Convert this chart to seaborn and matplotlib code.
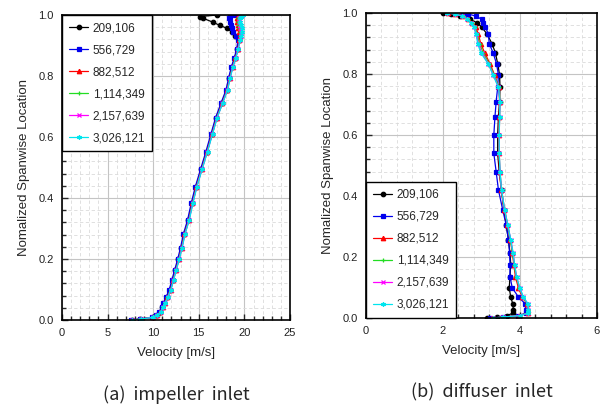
import matplotlib
matplotlib.use("Agg")
import matplotlib.pyplot as plt
from matplotlib.ticker import MultipleLocator
import seaborn as sns
import pandas as pd

sns.set_style("white")
plt.rcParams['font.family'] = ['Liberation Sans', 'DejaVu Sans']

labels = ["209,106", "556,729", "882,512", "1,114,349", "2,157,639", "3,026,121"]
colors = ["#000000", "#0000ee", "#ff0000", "#22dd22", "#ff00ff", "#00e5ee"]
markers = ["o", "s", "^", "+", "x", (6, 2, 0)]

# (a) impeller inlet
y_imp = [0.0, 0.003, 0.009, 0.016, 0.027, 0.042, 0.055, 0.074, 0.10, 0.131, 0.164, 0.199,
         0.237, 0.281, 0.328, 0.383, 0.437, 0.495, 0.552, 0.61, 0.664, 0.71, 0.754, 0.795,
         0.831, 0.858, 0.889, 0.918, 0.93, 0.945, 0.957, 0.966, 0.976, 0.989, 0.995, 1.0]
imp_209 = [7.64, 8.6, 9.94, 10.4, 10.75, 11.0, 11.2, 11.48, 11.84, 12.13, 12.43, 12.76,
           13.08, 13.38, 13.85, 14.25, 14.69, 15.28, 15.86, 16.41, 16.92, 17.5, 18.06, 18.35,
           18.64, 18.94, 19.22, 19.37, 18.97, 18.6, 18.06, 17.3, 16.6, 15.5, 15.13, 16.96]
imp_556 = [7.6, 8.55, 9.88, 10.32, 10.68, 10.92, 11.12, 11.4, 11.76, 12.05, 12.35, 12.68,
           13.0, 13.3, 13.77, 14.17, 14.62, 15.2, 15.78, 16.33, 16.85, 17.42, 17.98, 18.28,
           18.58, 18.88, 19.15, 19.3, 19.1, 18.8, 18.6, 18.5, 18.4, 18.35, 18.4, 19.0]
imp_882 = [7.66, 8.62, 9.96, 10.44, 10.8, 11.05, 11.26, 11.54, 11.9, 12.18, 12.48, 12.8,
           13.12, 13.43, 13.9, 14.3, 14.74, 15.32, 15.9, 16.45, 16.97, 17.55, 18.1, 18.4,
           18.7, 19.0, 19.28, 19.45, 19.5, 19.4, 19.3, 19.25, 19.2, 19.2, 19.3, 19.5]
imp_1114 = [7.66, 8.62, 9.97, 10.45, 10.82, 11.07, 11.28, 11.56, 11.92, 12.2, 12.5, 12.82,
            13.14, 13.45, 13.92, 14.32, 14.76, 15.34, 15.92, 16.47, 16.99, 17.57, 18.12, 18.42,
            18.72, 19.02, 19.3, 19.48, 19.55, 19.5, 19.4, 19.35, 19.3, 19.3, 19.4, 19.6]
imp_2157 = [7.66, 8.63, 9.98, 10.46, 10.83, 11.08, 11.3, 11.58, 11.94, 12.22, 12.52, 12.84,
            13.16, 13.47, 13.94, 14.34, 14.78, 15.36, 15.94, 16.49, 17.01, 17.59, 18.14, 18.44,
            18.74, 19.04, 19.32, 19.5, 19.6, 19.6, 19.55, 19.5, 19.45, 19.45, 19.5, 19.7]
imp_3026 = [7.67, 8.64, 9.99, 10.47, 10.84, 11.1, 11.32, 11.6, 11.96, 12.24, 12.54, 12.86,
            13.18, 13.49, 13.96, 14.36, 14.8, 15.38, 15.96, 16.51, 17.03, 17.61, 18.16, 18.46,
            18.76, 19.06, 19.34, 19.55, 19.65, 19.7, 19.7, 19.6, 19.5, 19.5, 19.6, 19.8]

# (b) diffuser inlet
y_dif = [0.0, 0.003, 0.008, 0.016, 0.027, 0.047, 0.069, 0.098, 0.136, 0.175, 0.213, 0.257,
         0.306, 0.355, 0.42, 0.48, 0.54, 0.6, 0.66, 0.709, 0.756, 0.797, 0.834, 0.87,
         0.9, 0.93, 0.955, 0.968, 0.98, 0.99, 0.997, 1.0]
dif_209 = [3.13, 3.39, 3.65, 3.83, 3.83, 3.81, 3.76, 3.72, 3.74, 3.76, 3.74, 3.70,
           3.64, 3.58, 3.52, 3.46, 3.42, 3.42, 3.44, 3.47, 3.48, 3.47, 3.42, 3.36,
           3.27, 3.15, 3.0, 2.88, 2.70, 2.45, 2.20, 2.01]
dif_556 = [3.22, 3.55, 3.95, 4.16, 4.15, 4.13, 3.96, 3.80, 3.74, 3.74, 3.73, 3.70,
           3.64, 3.55, 3.44, 3.38, 3.32, 3.32, 3.35, 3.38, 3.42, 3.44, 3.39, 3.30,
           3.20, 3.18, 3.10, 3.05, 3.0, 2.85, 2.65, 2.53]
dif_882 = [3.28, 3.56, 3.98, 4.2, 4.2, 4.18, 4.06, 3.96, 3.88, 3.84, 3.80, 3.75,
           3.67, 3.59, 3.51, 3.47, 3.45, 3.45, 3.46, 3.47, 3.45, 3.34, 3.22, 3.08,
           2.98, 2.92, 2.85, 2.76, 2.65, 2.52, 2.32, 2.12]
dif_1114 = [3.29, 3.57, 3.99, 4.21, 4.21, 4.19, 4.07, 3.98, 3.9, 3.85, 3.81, 3.75,
            3.68, 3.6, 3.52, 3.48, 3.46, 3.46, 3.47, 3.48, 3.45, 3.33, 3.2, 3.04,
            2.95, 2.89, 2.83, 2.75, 2.64, 2.51, 2.31, 2.11]
dif_2157 = [3.3, 3.57, 4.0, 4.22, 4.22, 4.2, 4.08, 3.99, 3.91, 3.86, 3.82, 3.76,
            3.68, 3.6, 3.52, 3.48, 3.46, 3.46, 3.47, 3.48, 3.44, 3.31, 3.18, 3.0,
            2.92, 2.87, 2.81, 2.73, 2.63, 2.5, 2.3, 2.1]
dif_3026 = [3.30, 3.57, 4.0, 4.22, 4.22, 4.2, 4.09, 4.0, 3.91, 3.86, 3.82, 3.76,
            3.68, 3.60, 3.52, 3.48, 3.46, 3.46, 3.47, 3.48, 3.44, 3.30, 3.17, 2.98,
            2.90, 2.86, 2.80, 2.72, 2.62, 2.50, 2.30, 2.10]

imp_series = [imp_209, imp_556, imp_882, imp_1114, imp_2157, imp_3026]
dif_series = [dif_209, dif_556, dif_882, dif_1114, dif_2157, dif_3026]

fig = plt.figure(figsize=(6, 4.11), dpi=100)
ax1 = fig.add_axes([0.1033, 0.2214, 0.38, 0.742])
ax2 = fig.add_axes([0.61, 0.2263, 0.385, 0.742])


def draw(ax, ys, series, xmax, xmaj, legloc, title):
    for xs, lab, c, m in zip(series, labels, colors, markers):
        df = pd.DataFrame({"v": xs, "s": ys})
        sns.lineplot(data=df, x="v", y="s", sort=False, estimator=None, ax=ax,
                     color=c, marker=m, markersize=3.2, markeredgewidth=0.9,
                     markeredgecolor=c, linewidth=0.9, label=lab)
    ax.set_xlim(0, xmax)
    ax.set_ylim(0, 1.0)
    ax.xaxis.set_major_locator(MultipleLocator(xmaj))
    ax.xaxis.set_minor_locator(MultipleLocator(xmaj / 5))
    ax.yaxis.set_major_locator(MultipleLocator(0.2))
    ax.yaxis.set_minor_locator(MultipleLocator(0.04))
    ax.grid(which="major", color="#c4c4c4", linewidth=0.8, linestyle="-")
    ax.grid(which="minor", color="#dadada", linewidth=0.6, linestyle=(0, (4, 3)))
    ax.set_axisbelow(True)
    ax.yaxis.set_major_formatter(matplotlib.ticker.FormatStrFormatter("%.1f"))
    ax.tick_params(which="major", direction="in", length=4, width=1, labelsize=8,
                   labelcolor="#222222", pad=6, left=True, bottom=True)
    ax.tick_params(which="minor", direction="in", length=3, width=1,
                   left=True, bottom=True)
    for sp in ax.spines.values():
        sp.set_color("black")
        sp.set_linewidth(1.2)
    ax.set_xlabel("Velocity [m/s]", fontsize=9.5, labelpad=6)
    ax.set_ylabel("Nomalized Spanwise Location", fontsize=9.5, labelpad=6)
    leg = ax.legend(loc=legloc, fontsize=8.5, frameon=True, fancybox=False,
                    borderaxespad=0, handlelength=1.6, handletextpad=0.4,
                    borderpad=0.6, labelspacing=0.85)
    leg.get_frame().set_edgecolor("black")
    leg.get_frame().set_linewidth(1.0)
    leg.get_frame().set_alpha(1)
    ax.text(0.5, -0.245, title, transform=ax.transAxes, ha="center", va="center",
            fontsize=13, family=["Noto Sans CJK KR", "DejaVu Sans"])


draw(ax1, y_imp, imp_series, 25, 5, "upper left", "(a)  impeller  inlet")
draw(ax2, y_dif, dif_series, 6, 2, "lower left", "(b)  diffuser  inlet")

fig.savefig("out.png", dpi=100)
